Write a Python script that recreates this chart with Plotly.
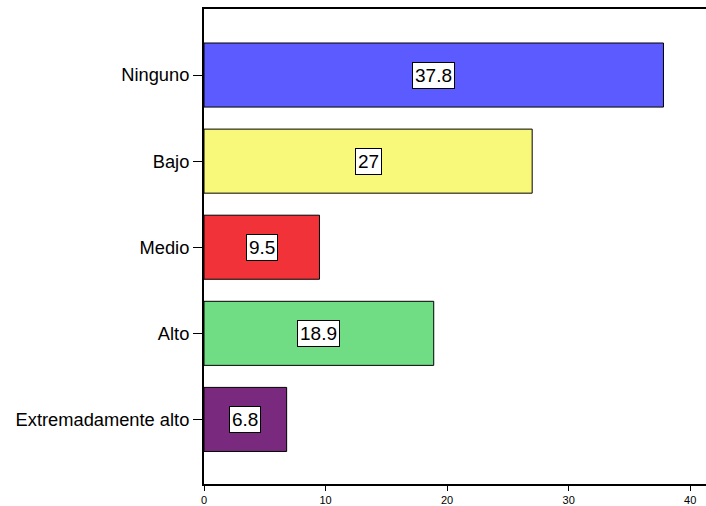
import plotly.graph_objects as go

categories = ["Extremadamente alto", "Alto", "Medio", "Bajo", "Ninguno"]
values = [6.8, 18.9, 9.5, 27, 37.8]
labels = ["6.8", "18.9", "9.5", "27", "37.8"]
colors = ["#7A2A7E", "#70DD84", "#F13238", "#F8F87A", "#5B5BFF"]

fig = go.Figure()
fig.add_trace(go.Bar(
    y=categories, x=values, orientation="h",
    marker=dict(color=colors, line=dict(color="black", width=1)),
    width=0.744, hoverinfo="skip",
))

for c, v, t in zip(categories, values, labels):
    fig.add_annotation(x=v / 2, y=c, xref="x", yref="y", text=t, showarrow=False,
                       bgcolor="white", bordercolor="black", borderwidth=1, borderpad=2,
                       font=dict(family="Liberation Sans, Arial", size=19, color="black"))

fig.update_layout(
    width=706, height=506,
    margin=dict(l=204, r=0, t=9, b=22),
    plot_bgcolor="white", paper_bgcolor="white",
    showlegend=False,
    font=dict(family="Liberation Sans, Arial", color="black"),
    xaxis=dict(range=[0, 41.3], tickvals=[0, 10, 20, 30, 40], showgrid=False, zeroline=False,
               showline=True, linecolor="black", linewidth=2, mirror=True, automargin=False,
               ticks="outside", ticklen=5, tickcolor="black", tickfont=dict(size=11),
               ticklabelstandoff=0),
    yaxis=dict(range=[-0.75, 4.767], showgrid=False, zeroline=False, automargin=False,
               showline=True, linecolor="black", linewidth=2,
               ticks="outside", ticklen=9, tickcolor="black", tickfont=dict(size=18.3)),
)
fig.write_html("out.html", config={"displayModeBar": False},
               post_script="document.body.style.margin='0';")
